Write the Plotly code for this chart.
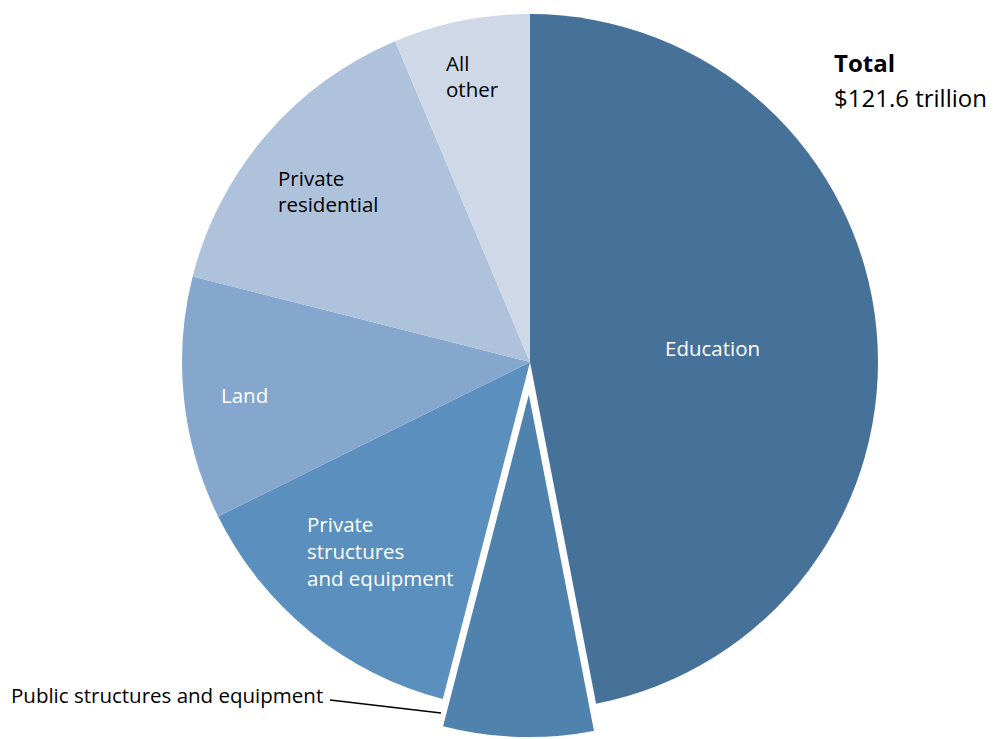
import plotly.graph_objects as go

# Data (trillions of dollars), clockwise from 12 o'clock
categories = ["Education", "Public structures and equipment", "Private structures and equipment",
              "Land", "Private residential", "All other"]
values = [57.1, 8.6, 16.6, 13.7, 17.9, 7.7]
colors = ["#46729A", "#4F83AE", "#5A8FBE", "#85A7CD", "#AFC2DC", "#CED8E7"]
pulled = "Public structures and equipment"
total_label = "$121.6 trillion"

W, H = 993, 739
FONT = "Open Sans"

def px(x):
    return x / W

def py(y):
    return 1 - y / H

clear = "rgba(0,0,0,0)"
main_colors = [clear if c == pulled else col for c, col in zip(categories, colors)]
pull_colors = [col if c == pulled else clear for c, col in zip(categories, colors)]
pull_lines = [2 if c == pulled else 0 for c in categories]

fig = go.Figure()
# main pie (pulled slice left empty)
fig.add_trace(go.Pie(
    labels=categories, values=values, sort=False, direction="clockwise", rotation=0,
    marker=dict(colors=main_colors, line=dict(width=0)),
    textinfo="none", hoverinfo="label+value", showlegend=False,
    domain=dict(x=[px(182), px(878)], y=[py(724), py(0)]),
))
# exploded slice, same pie shifted outward
fig.add_trace(go.Pie(
    labels=categories, values=values, sort=False, direction="clockwise", rotation=0,
    marker=dict(colors=pull_colors, line=dict(width=pull_lines, color="white")),
    textinfo="none", hoverinfo="label+value", showlegend=False,
    domain=dict(x=[px(181), px(877)], y=[py(739), py(41)]),
))

def ann(text, x, y, color="black", size=20.5, xanchor="left", **kw):
    fig.add_annotation(text=text, x=px(x), y=py(y), xref="paper", yref="paper",
                       xanchor=xanchor, yanchor="middle", align="left", showarrow=False,
                       font=dict(family=FONT, size=size, color=color), **kw)

ann(categories[0], 712, 348, color="white", xanchor="center")
ann(categories[3], 219, 395, color="white")
ann("Private", 305, 524, color="white")
ann("structures", 305, 551, color="white")
ann("and equipment", 305, 578, color="white")
ann("Private", 276, 178)
ann("residential", 276, 204)
ann("All", 444, 63)
ann("other", 444, 89)
ann(categories[1], 9, 695)
ann("<b>Total</b>", 832, 63, size=24)
ann(total_label, 832, 97, size=24)

fig.add_shape(type="line", xref="paper", yref="paper",
              x0=px(330), y0=py(700), x1=px(441), y1=py(713),
              line=dict(color="black", width=1.6))

fig.update_layout(width=W, height=H, margin=dict(l=0, r=0, t=0, b=0),
                  paper_bgcolor="white", plot_bgcolor="white",
                  font=dict(family=FONT))
fig.write_html("out.html")
